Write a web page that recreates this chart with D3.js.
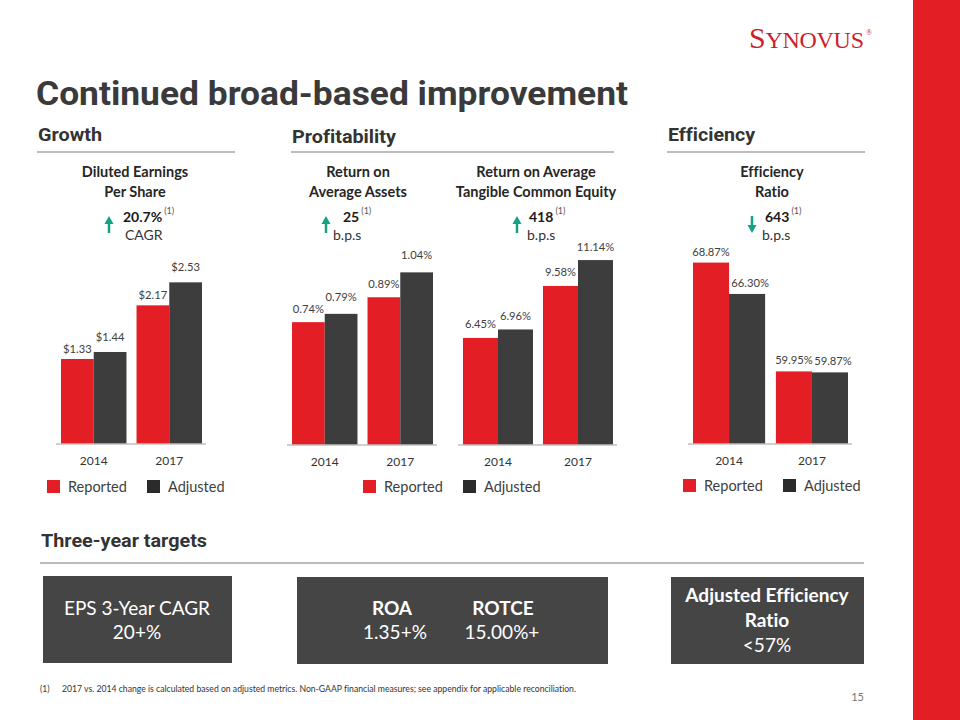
<!DOCTYPE html>
<html><head><meta charset="utf-8">
<script src="https://cdn.jsdelivr.net/npm/d3@7"></script>
<style>body{margin:0;background:#fff} svg{display:block} text{font-variant-ligatures:none;font-feature-settings:"liga" 0,"clig" 0}</style>
</head><body><svg id="c" width="960" height="720"></svg>
<script>
// ---------- data ----------
const years = ["2014", "2017"];
const seriesNames = ["Reported", "Adjusted"];
const epsReported = [1.33, 2.17];
const epsAdjusted = [1.44, 2.53];
const roaaReported = [0.74, 0.89];
const roaaAdjusted = [0.79, 1.04];
const rotceReported = [6.45, 9.58];
const rotceAdjusted = [6.96, 11.14];
const effReported = [68.87, 59.95];
const effAdjusted = [66.30, 59.87];
const changeValues = ["20.7%", "25", "418", "643"];
const changeUnits = ["CAGR", "b.p.s", "b.p.s", "b.p.s"];
const targetEps = ["EPS 3-Year CAGR", "20+%"];
const targetRoa = ["ROA", "1.35+%"];
const targetRotce = ["ROTCE", "15.00%+"];
const targetEff = ["Adjusted Efficiency", "Ratio", "<57%"];

// ---------- styles ----------
const RED = "#e31e24", DARK = "#3d3d3d", GREEN = "#16a085", TXT = "#404040";
const LF = "Lato, 'Open Sans', sans-serif";
const HF = "Roboto, 'Liberation Sans', sans-serif";
const svg = d3.select("#c");

// right red strip
svg.append("rect").attr("x", 913).attr("y", 0).attr("width", 47).attr("height", 720).attr("fill", RED);

// logo
const logo = svg.append("text").attr("x", 749).attr("y", 48)
  .attr("font-family", "'Liberation Serif', 'DejaVu Serif', serif").attr("fill", "#cc1f2b")
  .attr("textLength", 115).attr("lengthAdjust", "spacing");
logo.append("tspan").attr("font-size", 30).text("S");
logo.append("tspan").attr("font-size", 24).text("YNOVUS");
svg.append("text").attr("x", 866).attr("y", 35).attr("font-size", 8).attr("fill", "#cc1f2b")
  .attr("font-family", "'Liberation Serif', serif").text("®");

// title
svg.append("text").attr("x", 36).attr("y", 105).attr("font-family", HF).attr("font-weight", 700)
  .attr("font-size", 33).attr("fill", "#3a3a3a").attr("textLength", 592).attr("lengthAdjust", "spacingAndGlyphs")
  .text("Continued broad-based improvement");

// section headers
function section(x, y, x2, label, ly, len) {
  svg.append("text").attr("x", x).attr("y", y).attr("font-family", HF).attr("font-weight", 700)
    .attr("font-size", 19).attr("fill", "#333").attr("textLength", len).attr("lengthAdjust", "spacingAndGlyphs")
    .text(label);
  svg.append("line").attr("x1", x - 1).attr("x2", x2).attr("y1", ly).attr("y2", ly)
    .attr("stroke", "#a6a6a6").attr("stroke-width", 1.5);
}
section(38, 141, 235, "Growth", 152, 64);
section(292, 143, 614, "Profitability", 152, 104);
section(668, 141, 865, "Efficiency", 152, 87);
section(41, 547, 864, "Three-year targets", 563, 166);

// subtitles
function subtitle(cx, lines) {
  lines.forEach((l, i) => svg.append("text").attr("x", cx).attr("y", 177 + i * 19.5)
    .attr("text-anchor", "middle").attr("font-family", LF).attr("font-weight", 700)
    .attr("font-size", 14.5).attr("fill", "#262626").text(l));
}
subtitle(135, ["Diluted Earnings", "Per Share"]);
subtitle(358, ["Return on", "Average Assets"]);
subtitle(536, ["Return on Average", "Tangible Common Equity"]);
subtitle(772, ["Efficiency", "Ratio"]);

// change indicators
function arrow(x, up) {
  const yT = 216, yB = 233;
  const g = svg.append("g");
  if (up) {
    g.append("line").attr("x1", x).attr("x2", x).attr("y1", yT + 6).attr("y2", yB)
      .attr("stroke", GREEN).attr("stroke-width", 2.5);
    g.append("path").attr("d", `M${x - 4.5},${yT + 8}L${x + 4.5},${yT + 8}L${x},${yT}Z`).attr("fill", GREEN);
  } else {
    g.append("line").attr("x1", x).attr("x2", x).attr("y1", yT).attr("y2", yB - 6)
      .attr("stroke", GREEN).attr("stroke-width", 2.5);
    g.append("path").attr("d", `M${x - 4.5},${yB - 8}L${x + 4.5},${yB - 8}L${x},${yB}Z`).attr("fill", GREEN);
  }
}
function change(ax, up, vx, ux, i) {
  arrow(ax, up);
  const t = svg.append("text").attr("x", vx).attr("y", 222).attr("font-family", LF)
    .attr("font-size", 14).attr("font-weight", 700).attr("fill", "#1a1a1a").text(changeValues[i]);
  const w = t.node().getComputedTextLength();
  svg.append("text").attr("x", vx + w + 2).attr("y", 214).attr("font-family", LF)
    .attr("font-size", 9).attr("fill", "#555").text("(1)");
  svg.append("text").attr("x", ux).attr("y", 240).attr("font-family", LF)
    .attr("font-size", 14).attr("fill", "#333").text(changeUnits[i]);
}
change(109, true, 123, 125, 0);
change(326, true, 343, 333, 1);
change(517, true, 529, 527, 2);
change(752, false, 765, 762, 3);

// bar charts
function barChart(o) {
  const x = d3.scaleBand().domain(years).range([o.x0, o.x1]).paddingInner(o.pi);
  const xs = d3.scaleBand().domain(seriesNames).range([0, x.bandwidth()]);
  const y = d3.scaleLinear().domain(o.dom).range([o.base, o.top]);
  const data = [];
  years.forEach((yr, i) => {
    data.push({ yr, s: "Reported", v: o.rep[i] });
    data.push({ yr, s: "Adjusted", v: o.adj[i] });
  });
  const g = svg.append("g");
  g.selectAll("rect").data(data).join("rect")
    .attr("x", d => x(d.yr) + xs(d.s)).attr("width", xs.bandwidth())
    .attr("y", d => y(d.v)).attr("height", d => o.base - y(d.v))
    .attr("fill", d => d.s === "Reported" ? RED : DARK);
  g.selectAll("text.lbl").data(data).join("text").attr("class", "lbl")
    .attr("x", d => x(d.yr) + xs(d.s) + xs.bandwidth() / 2 + (d.s === "Adjusted" ? (o.shiftA || 0) : 0))
    .attr("y", d => y(d.v) - (d.s === "Reported" ? o.offR : o.offA))
    .attr("text-anchor", "middle").attr("font-family", LF).attr("font-size", 11.2)
    .attr("fill", TXT).text(d => o.fmt(d.v));
  const ax = g.append("g").attr("transform", `translate(0,${o.base})`)
    .call(d3.axisBottom(x).tickSize(0).tickPadding(12));
  ax.select(".domain").attr("d", `M${o.x0 - 5},0H${o.x1 + 4}`).attr("stroke", "#bfbfbf").attr("stroke-width", 1.5);
  ax.selectAll("text").attr("font-family", LF).attr("font-size", 12).attr("fill", "#333");
}
const pct = v => v.toFixed(2) + "%";
barChart({ rep: epsReported, adj: epsAdjusted, fmt: d3.format("$.2f"), x0: 61, x1: 202, pi: 0.133,
  dom: [0, 3], base: 444, top: 444 - 3 * 63.9, offR: 6, offA: 11 });
barChart({ rep: roaaReported, adj: roaaAdjusted, fmt: pct, x0: 292, x1: 433, pi: 0.133,
  dom: [0, 1.2], base: 445, top: 445 - 1.2 * 166, offR: 9, offA: 13 });
barChart({ rep: rotceReported, adj: rotceAdjusted, fmt: pct, x0: 463, x1: 613, pi: 0.125,
  dom: [0, 12], base: 445, top: 445 - 12 * 16.6, offR: 10, offA: 9 });
barChart({ rep: effReported, adj: effAdjusted, fmt: pct, x0: 693, x1: 848, pi: 0.13,
  dom: [54, 70], base: 444, top: 444 - 16 * 12.2, offR: 7, offA: 7, shiftA: 3 });

// legends
function legend(x, y) {
  seriesNames.forEach((s, i) => {
    const lx = x + i * 100;
    svg.append("rect").attr("x", lx).attr("y", y).attr("width", 13).attr("height", 13)
      .attr("fill", i === 0 ? RED : "#2b2b2b");
    svg.append("text").attr("x", lx + 21).attr("y", y + 12).attr("font-family", LF)
      .attr("font-size", 14.5).attr("fill", "#404040").text(s);
  });
}
legend(47, 480);
legend(363, 480);
legend(683, 479);

// target boxes
function box(x, y, w, h) {
  svg.append("rect").attr("x", x).attr("y", y).attr("width", w).attr("height", h).attr("fill", "#454545");
}
function btxt(cx, yy, t, bold) {
  svg.append("text").attr("x", cx).attr("y", yy).attr("text-anchor", "middle").attr("font-family", LF)
    .attr("font-size", 19).attr("font-weight", bold ? 700 : 400).attr("fill", "#fff").text(t);
}
box(43, 576, 189, 87);
btxt(137, 615, targetEps[0], false);
btxt(137, 639, targetEps[1], false);
box(297, 577, 311, 87);
btxt(392, 615, targetRoa[0], true);
btxt(395, 639, targetRoa[1], false);
btxt(503, 615, targetRotce[0], true);
btxt(502, 639, targetRotce[1], false);
box(671, 577, 193, 87);
btxt(767, 602, targetEff[0], true);
btxt(767, 627, targetEff[1], true);
btxt(767, 652, targetEff[2], false);

// footnote
svg.append("text").attr("x", 40).attr("y", 692).attr("font-family", LF).attr("font-size", 8.5)
  .attr("fill", "#333").text("(1)");
svg.append("text").attr("x", 62).attr("y", 692).attr("font-family", LF).attr("font-size", 8.5)
  .attr("fill", "#333").attr("textLength", 514).attr("lengthAdjust", "spacingAndGlyphs")
  .text("2017 vs. 2014 change is calculated based on adjusted metrics. Non-GAAP financial measures; see appendix for applicable reconciliation.");
svg.append("text").attr("x", 864).attr("y", 701).attr("text-anchor", "end").attr("font-family", LF)
  .attr("font-size", 11).attr("fill", "#777").text("15");
</script></body></html>
